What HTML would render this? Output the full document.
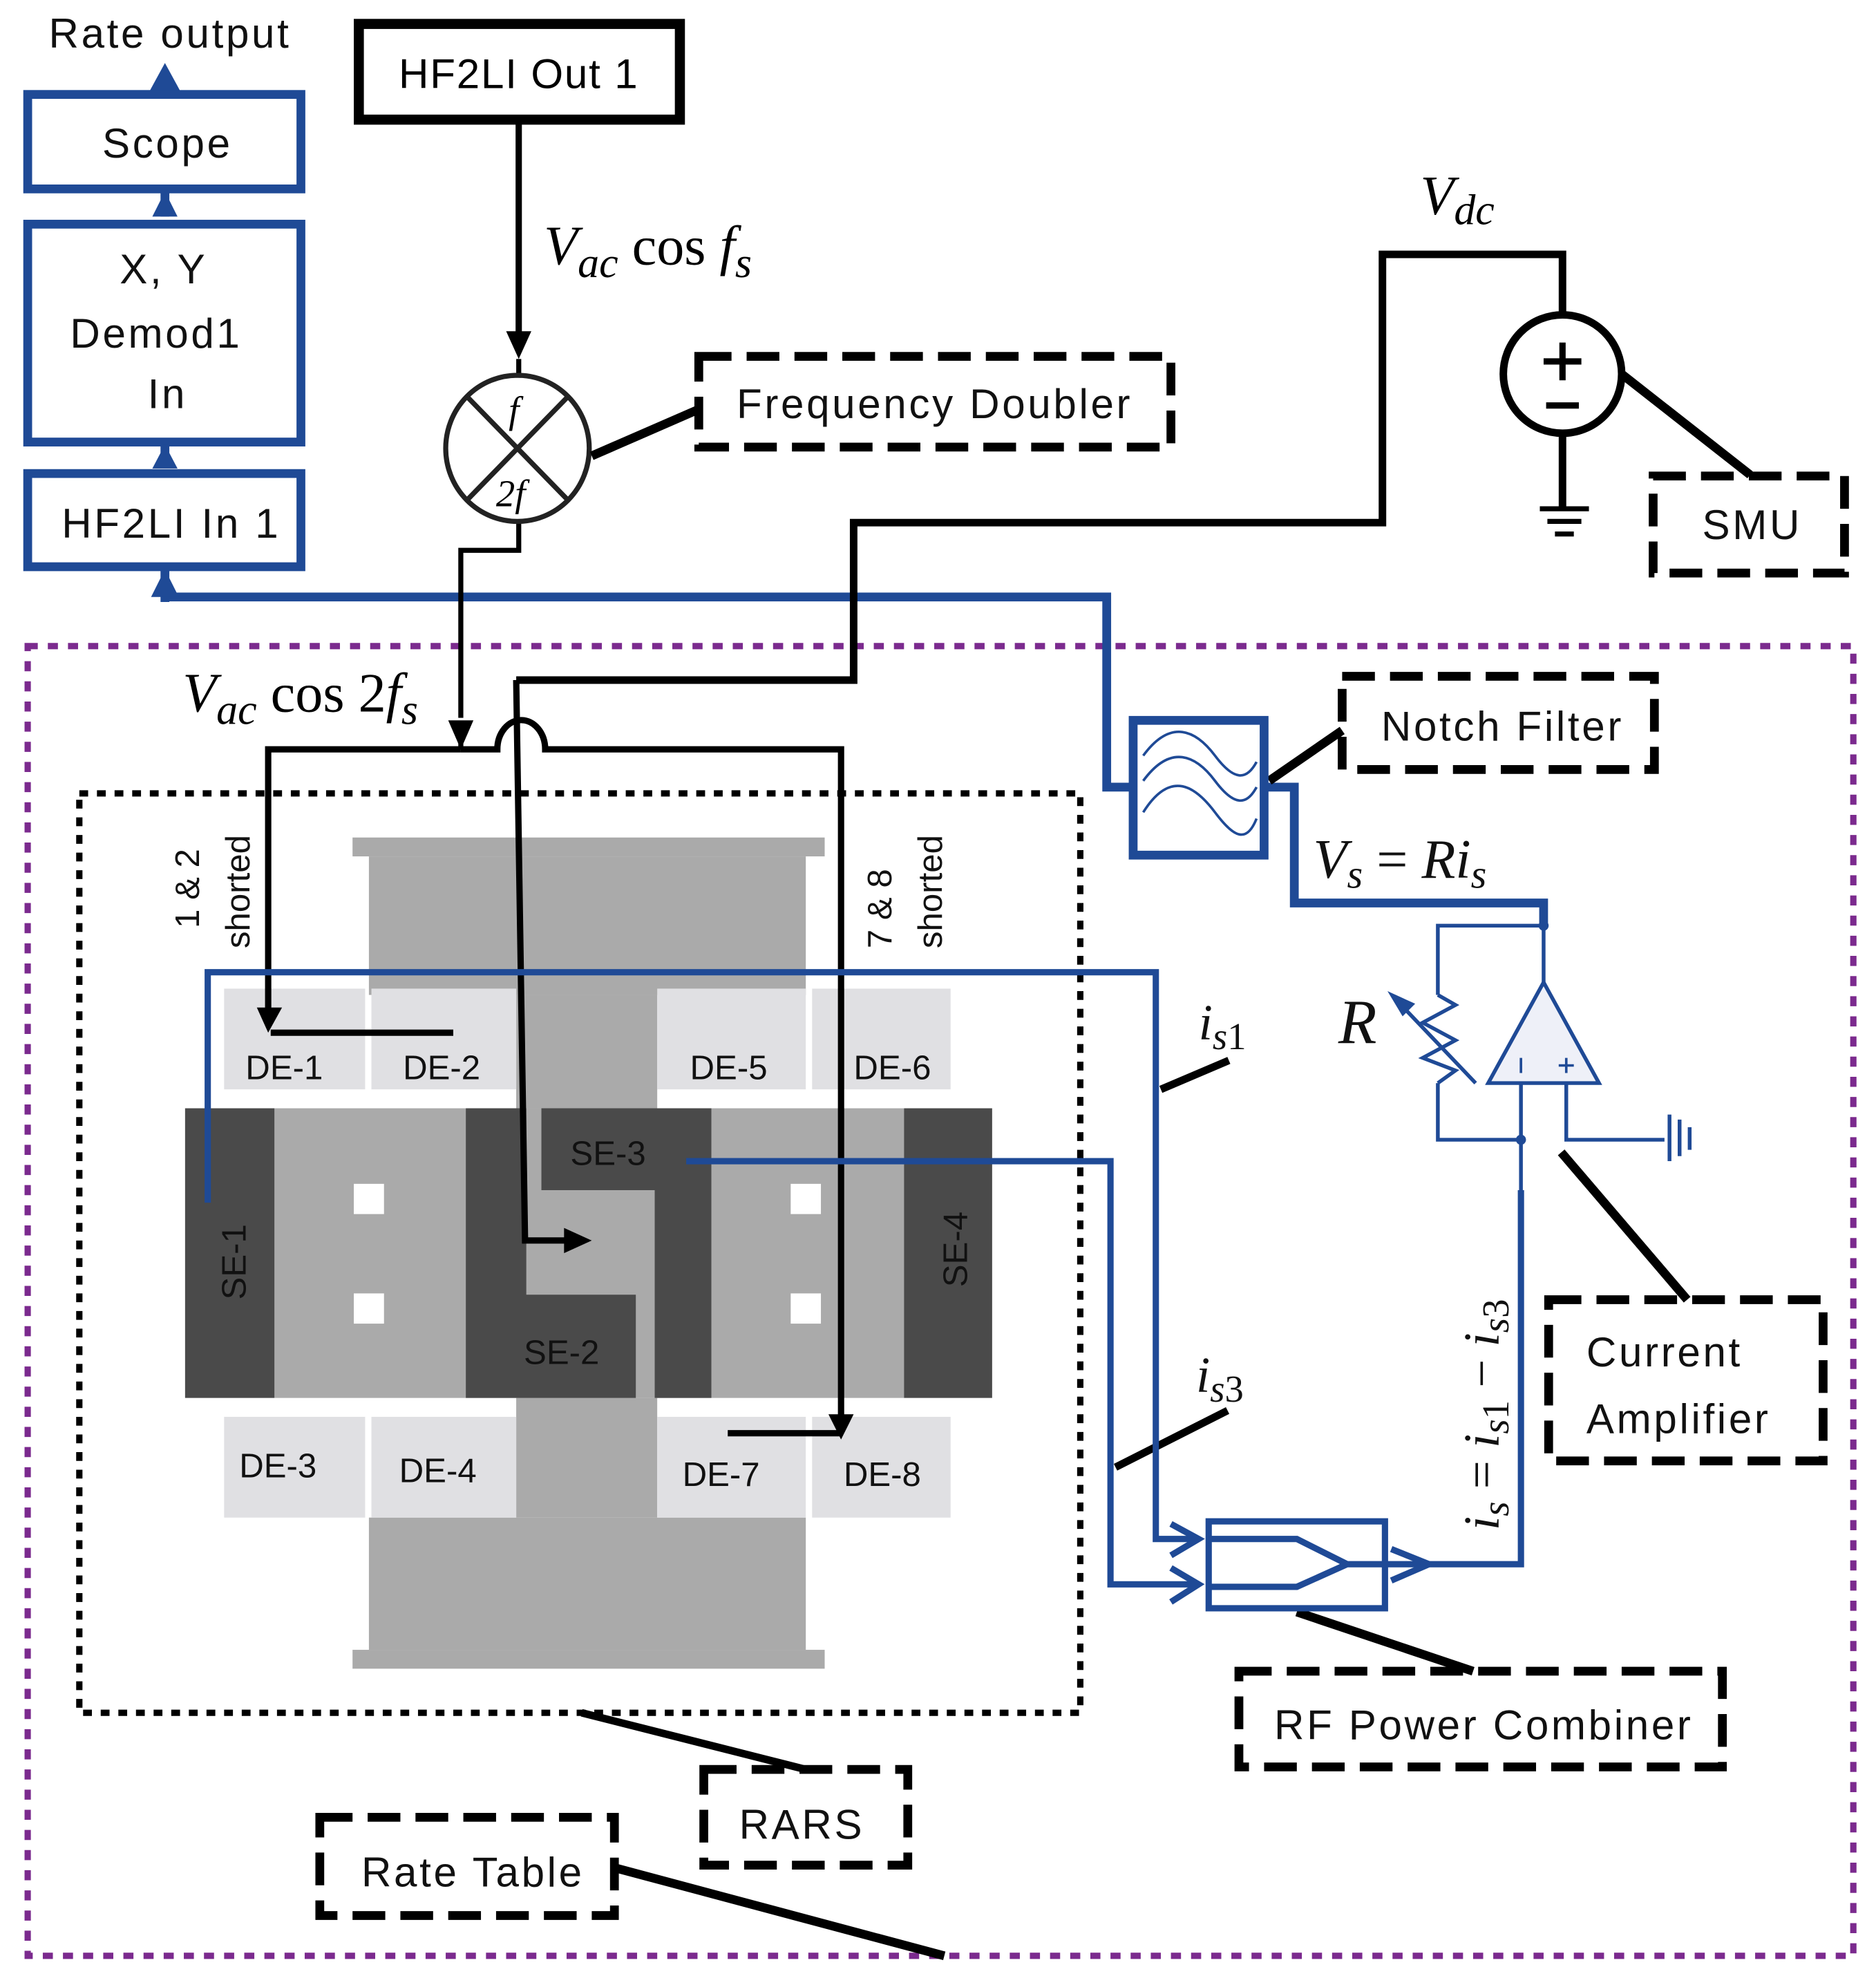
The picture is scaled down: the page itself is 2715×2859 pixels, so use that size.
<!DOCTYPE html>
<html><head><style>html,body{margin:0;padding:0;background:#fff}svg{display:block}</style></head>
<body>
<svg width="2715" height="2859" viewBox="0 0 1490 1569" preserveAspectRatio="none" xmlns="http://www.w3.org/2000/svg" font-family="Liberation Sans, sans-serif">
<rect width="1490" height="1569" fill="#fff"/>
<!-- purple dotted boundary -->
<rect x="22" y="513" width="1450" height="1040" fill="none" stroke="#7b2a8e" stroke-width="5" stroke-dasharray="8,8"/>
<!-- device -->
<g>
<rect x="280" y="665" width="375" height="15" fill="#aaa"/>
<rect x="293" y="680" width="347" height="110" fill="#aaa"/>
<rect x="280" y="1310" width="375" height="15" fill="#aaa"/>
<rect x="293" y="1205" width="347" height="105" fill="#aaa"/>
<rect x="410" y="790" width="112" height="90" fill="#aaa"/>
<rect x="410" y="1110" width="112" height="95" fill="#aaa"/>
<rect x="178" y="785" width="112" height="80" fill="#e0e0e3"/>
<rect x="295" y="785" width="115" height="80" fill="#e0e0e3"/>
<rect x="522" y="785" width="118" height="80" fill="#e0e0e3"/>
<rect x="645" y="785" width="110" height="80" fill="#e0e0e3"/>
<rect x="178" y="1125" width="112" height="80" fill="#e0e0e3"/>
<rect x="295" y="1125" width="115" height="80" fill="#e0e0e3"/>
<rect x="522" y="1125" width="118" height="80" fill="#e0e0e3"/>
<rect x="645" y="1125" width="110" height="80" fill="#e0e0e3"/>
<rect x="218" y="880" width="500" height="230" fill="#aaa"/>
<rect x="147" y="880" width="71" height="230" fill="#4a4a4a"/>
<rect x="718" y="880" width="70" height="230" fill="#4a4a4a"/>
<path d="M370 880 H418 V1028 H505 V1110 H370 Z" fill="#4a4a4a"/>
<path d="M430 880 H565 V1110 H520 V945 H430 Z" fill="#4a4a4a"/>
<rect x="281" y="940" width="24" height="24" fill="#fff"/>
<rect x="281" y="1027" width="24" height="24" fill="#fff"/>
<rect x="628" y="940" width="24" height="24" fill="#fff"/>
<rect x="628" y="1027" width="24" height="24" fill="#fff"/>
<g font-size="27" fill="#111">
<text x="195" y="857">DE-1</text><text x="320" y="857">DE-2</text>
<text x="548" y="857">DE-5</text><text x="678" y="857">DE-6</text>
<text x="190" y="1173">DE-3</text><text x="317" y="1177">DE-4</text>
<text x="542" y="1180">DE-7</text><text x="670" y="1180">DE-8</text>
<text x="453" y="925">SE-3</text><text x="416" y="1083">SE-2</text>
<text transform="translate(195,1032) rotate(-90)">SE-1</text>
<text transform="translate(768,1022) rotate(-90)">SE-4</text>
<text transform="translate(158,737) rotate(-90)">1 &amp; 2</text>
<text transform="translate(198,753) rotate(-90)">shorted</text>
<text transform="translate(708,753) rotate(-90)">7 &amp; 8</text>
<text transform="translate(748,753) rotate(-90)">shorted</text>
</g>
</g>
<!-- RARS dotted -->
<rect x="63" y="630" width="795" height="730" fill="none" stroke="#000" stroke-width="5" stroke-dasharray="7,7"/>
<!-- left stack -->
<g fill="none" stroke="#1f4a96" stroke-width="7">
<rect x="22" y="75" width="217" height="75"/>
<rect x="22" y="178" width="217" height="173"/>
<rect x="22" y="376" width="217" height="74"/>
<path d="M131 478 V452 M131 368 V353 M131 172 V152 M131 70 V60"/>
<path d="M131 474 H879 V625 H900 M1005 625 H1028 V717 H1226 V735"/>
</g>
<g fill="#1f4a96">
<polygon points="131,452 120,474 142,474"/><polygon points="131,353 121,372 141,372"/>
<polygon points="131,152 121,172 141,172"/><polygon points="131,50 119,72 143,72"/>
</g>
<g font-size="33" fill="#111" text-anchor="middle" letter-spacing="2">
<text x="135" y="38">Rate output</text>
<text x="133" y="125">Scope</text>
<text x="130" y="225">X, Y</text>
<text x="124" y="276">Demod1</text>
<text x="133" y="324">In</text>
<text x="136" y="427">HF2LI In 1</text>
</g>
<!-- HF2LI Out 1 -->
<rect x="285" y="19" width="255" height="76" fill="none" stroke="#000" stroke-width="8"/>
<text x="412" y="70" font-size="33" text-anchor="middle" letter-spacing="1">HF2LI Out 1</text>
<g stroke="#000" fill="none">
<path d="M412 95 V265" stroke-width="5"/>
<path d="M412 285 V300 M412 415 V437 H366 V570 M366 580 V595" stroke-width="4"/>
<ellipse cx="411" cy="356" rx="57" ry="58" stroke-width="4" stroke="#222"/>
<path d="M371 315 L451 397 M451 315 L371 397" stroke-width="4" stroke="#222"/>
<path d="M470 362 L555 325" stroke-width="7"/>
</g>
<polygon points="412,285 402,263 422,263" fill="#000"/>
<text x="404" y="336" font-family="Liberation Serif, serif" font-style="italic" font-size="30">f</text>
<text x="394" y="402" font-family="Liberation Serif, serif" font-style="italic" font-size="30">2f</text>
<text x="432" y="210" font-family="Liberation Serif, serif" font-size="44"><tspan font-style="italic">V</tspan><tspan font-style="italic" font-size="34" dy="10">ac</tspan><tspan dy="-10"> cos </tspan><tspan font-style="italic">f</tspan><tspan font-style="italic" font-size="34" dy="10">s</tspan></text>
<text x="145" y="565" font-family="Liberation Serif, serif" font-size="44"><tspan font-style="italic">V</tspan><tspan font-style="italic" font-size="34" dy="10">ac</tspan><tspan dy="-10"> cos 2</tspan><tspan font-style="italic">f</tspan><tspan font-style="italic" font-size="34" dy="10">s</tspan></text>
<!-- dashed boxes -->
<g fill="none" stroke="#000" stroke-width="7" stroke-dasharray="26,12">
<rect x="555" y="283" width="375" height="72"/>
<rect x="1066" y="537" width="248" height="74"/>
<rect x="1313" y="378" width="152" height="77"/>
<rect x="1230" y="1032" width="218" height="128"/>
<rect x="984" y="1327" width="384" height="76"/>
<rect x="559" y="1405" width="162" height="76"/>
<rect x="254" y="1443" width="234" height="78"/>
</g>
<g font-size="33" fill="#111" letter-spacing="2">
<text x="585" y="332">Frequency Doubler</text>
<text x="1097" y="588">Notch Filter</text>
<text x="1352" y="428">SMU</text>
<text x="1260" y="1085">Current</text>
<text x="1260" y="1138">Amplifier</text>
<text x="1012" y="1381">RF Power Combiner</text>
<text x="587" y="1460">RARS</text>
<text x="287" y="1498">Rate Table</text>
</g>
<!-- black connectors -->
<g stroke="#000" fill="none">
<path d="M366 595 H213 V805 M215 820 H360" stroke-width="5"/>
<path d="M366 595 H395 A18 22 0 0 1 433 595 H668 V1125 M668 1138 H578" stroke-width="5"/>
<path d="M410 540 H678 V415 H1098 V202 H1241 V250 M1241 345 V405" stroke-width="6"/>
<path d="M410 540 L417 985 H450" stroke-width="5"/>
<path d="M1223 404 H1262 M1229 414 H1256 M1235 424 H1250" stroke-width="4"/>
<circle cx="1241" cy="297" r="47" stroke-width="6"/>
<path d="M1226 287 H1256 M1241 272 V302 M1228 322 H1254" stroke-width="5"/>
<path d="M1288 297 L1390 377" stroke-width="7"/>
<path d="M1008 620 L1066 580" stroke-width="7"/>
<path d="M922 865 L976 842 M886 1165 L975 1120" stroke-width="6"/>
<path d="M1240 915 L1340 1032" stroke-width="7"/>
<path d="M1030 1280 L1170 1327" stroke-width="7"/>
<path d="M462 1360 L640 1405" stroke-width="6"/>
<path d="M488 1483 L750 1553" stroke-width="7"/>
</g>
<polygon points="213,820 204,800 224,800" fill="#000"/>
<polygon points="668,1143 658,1123 678,1123" fill="#000"/>
<polygon points="470,985 448,975 448,995" fill="#000"/>
<polygon points="366,595 356,572 376,572" fill="#000"/>
<text x="1128" y="170" font-family="Liberation Serif, serif" font-style="italic" font-size="44">V<tspan font-size="34" dy="8">dc</tspan></text>
<!-- blue signal lines -->
<g fill="none" stroke="#1f4a96" stroke-width="5">
<path d="M165 955 V772 H918 V1222 H952"/>
<path d="M545 922 H882 V1258 H952"/>
<rect x="960" y="1208" width="140" height="69"/>
<path d="M960 1222 H1030 L1070 1242 L1030 1260 H960 M1070 1242 H1208 V945"/>
<path d="M930 1210 L952 1222 L930 1235 M930 1245 L952 1258 L930 1272 M1105 1230 L1135 1242 L1105 1255"/>
</g>
<rect x="900" y="572" width="104" height="107" fill="#fff" stroke="#1f4a96" stroke-width="7"/>
<g fill="none" stroke="#1f4a96" stroke-width="2">
<path d="M908 600 C930 570 950 580 965 600 S990 620 998 605"/>
<path d="M908 620 C930 590 950 600 965 620 S990 640 998 625"/>
<path d="M908 645 C930 610 950 625 965 645 S990 670 998 650"/>
</g>
<!-- current amplifier schematic -->
<g fill="none" stroke="#1f4a96" stroke-width="3">
<path d="M1226 735 V780 M1226 735 H1142 V790 M1142 860 V905 H1208 V945"/>
<path d="M1142 790 L1156 798 L1130 812 L1156 826 L1130 840 L1156 850 L1142 860"/>
<path d="M1172 860 L1110 795"/>
<path d="M1208 905 V850 M1244 850 V905 H1322"/>
<path d="M1326 885 V922 M1334 889 V918 M1342 895 V913"/>
</g>
<polygon points="1226,780 1182,860 1270,860" fill="#eef0f8" stroke="#1f4a96" stroke-width="3"/>
<path d="M1208 840 V852 M1238 846 H1250 M1244 840 V852" stroke="#1f4a96" stroke-width="2"/>
<polygon points="1102,787 1124,797 1114,807" fill="#1f4a96"/>
<circle cx="1226" cy="735" r="4" fill="#1f4a96"/><circle cx="1208" cy="905" r="4" fill="#1f4a96"/>
<g font-family="Liberation Serif, serif" font-style="italic" fill="#111">
<text x="1063" y="828" font-size="50">R</text>
<text x="1043" y="697" font-size="44">V<tspan font-size="32" dy="8">s</tspan><tspan dy="-8" font-style="normal"> = </tspan>Ri<tspan font-size="32" dy="8">s</tspan></text>
<text x="952" y="825" font-size="40">i<tspan font-size="30" dy="8">s</tspan><tspan font-size="30" font-style="normal">1</tspan></text>
<text x="950" y="1105" font-size="40">i<tspan font-size="30" dy="8">s</tspan><tspan font-size="30" font-style="normal">3</tspan></text>
<text transform="translate(1190,1215) rotate(-90)" font-size="40">i<tspan font-size="30" dy="8">s</tspan><tspan dy="-8" font-style="normal"> = </tspan>i<tspan font-size="30" dy="8">s</tspan><tspan font-size="30" font-style="normal">1</tspan><tspan dy="-8" font-style="normal"> − </tspan>i<tspan font-size="30" dy="8">s</tspan><tspan font-size="30" font-style="normal">3</tspan></text>
</g>
</svg>
</body></html>
